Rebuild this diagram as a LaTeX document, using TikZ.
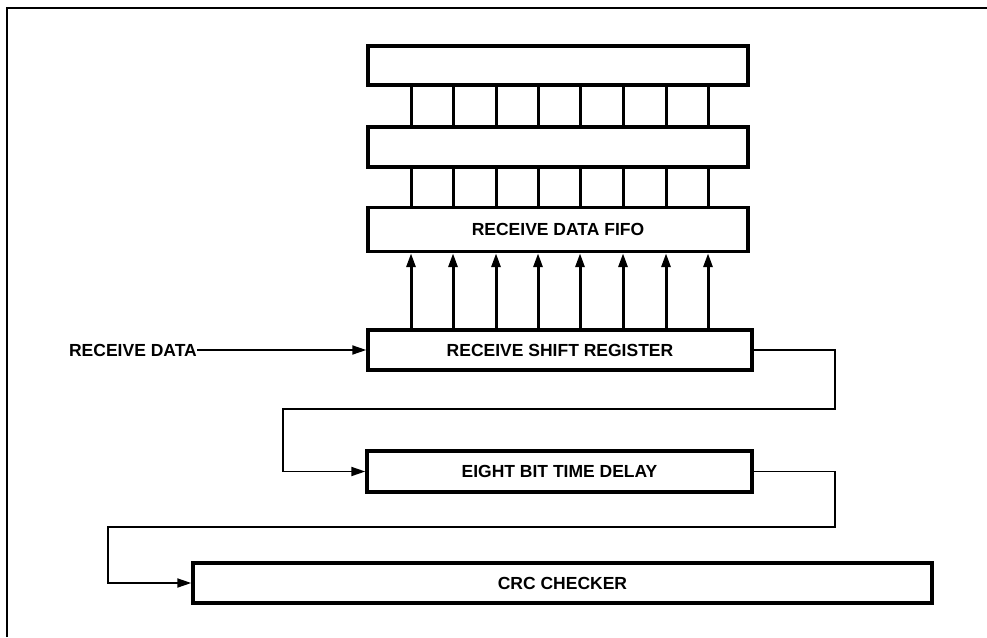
\documentclass[tikz,border=0pt]{standalone}
\usepackage{fontspec}
\setmainfont{Liberation Sans}
\usetikzlibrary{arrows.meta}
\begin{document}
\begin{tikzpicture}[x=1pt,y=-1pt,
  blk/.style={draw,line width=3.4pt,minimum height=40pt,inner sep=0pt,font=\bfseries\fontsize{17.5}{20}\selectfont},
  wire/.style={line width=1.8pt},
  bus/.style={line width=3pt},
  tip/.style={-{Triangle[length=14pt,width=9pt]}},
  lbl/.style={font=\bfseries\fontsize{17.5}{20}\selectfont,inner sep=0pt}
]
\useasboundingbox (0,0) rectangle (987,637);
% frame (top and left edges)
\draw[line width=1.6pt] (7,637) -- (7,8) -- (987,8);

\node[blk,minimum width=380pt,minimum height=39pt] (top) at (558,65.5) {};
\node[blk,minimum width=380pt,minimum height=40pt] (mid) at (558,147) {};
\node[blk,minimum width=380pt,minimum height=44pt] (fifo) at (558,229.5) {RECEIVE DATA FIFO};
\node[blk,minimum width=384pt,minimum height=40pt] (shift) at (560,350) {RECEIVE SHIFT REGISTER};
\node[blk,minimum width=385pt,minimum height=41pt] (delay) at (559.5,471.5) {EIGHT BIT TIME DELAY};
\node[blk,minimum width=739pt,minimum height=40pt] (crc) at (562.5,583) {CRC CHECKER};

\node[lbl,anchor=east] (rd) at (197,350) {RECEIVE DATA};

\foreach \x in {411,453,496,538,580,623,666,708}{
  \draw[bus] (\x,0 |- top.south) -- (\x,0 |- mid.north);
  \draw[bus] (\x,0 |- mid.south) -- (\x,0 |- fifo.north);
  \draw[bus,tip] (\x,0 |- shift.north) -- (\x,0 |- fifo.south);
}

\draw[wire,tip] (rd.east) -- (shift.west);
\draw[wire,tip] (shift.east) -| (835,409) -| (283,440) |- (delay.west);
\draw[wire,tip] (delay.east) -| (835,527) -| (108,560) |- (crc.west);
\end{tikzpicture}
\end{document}
